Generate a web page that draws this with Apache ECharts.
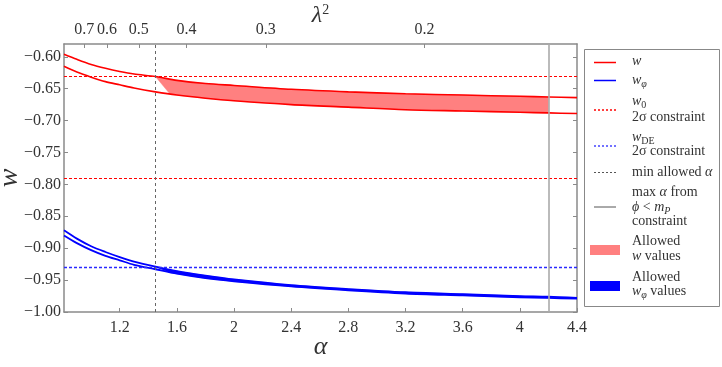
<!DOCTYPE html>
<html>
<head>
<meta charset="utf-8">
<script src="https://cdn.jsdelivr.net/npm/echarts@6/dist/echarts.min.js"></script>
<style>
  html, body { margin: 0; padding: 0; background: #fff; }
  #chart { width: 722px; height: 367px; }
</style>
</head>
<body>
<div id="chart"></div>
<script>
// 读图得到的数据
const alphaPts = [0.81, 0.9, 1.0, 1.1, 1.2, 1.3, 1.45, 1.6, 1.8, 2.0, 2.4, 2.8, 3.2, 3.6, 4.0, 4.2, 4.4];
const wUpper = [-0.596, -0.604, -0.612, -0.618, -0.623, -0.627, -0.631, -0.637, -0.642, -0.645, -0.651, -0.655, -0.658, -0.660, -0.662, -0.663, -0.664];
const wLower = [-0.615, -0.624, -0.632, -0.639, -0.644, -0.649, -0.655, -0.660, -0.665, -0.669, -0.675, -0.679, -0.683, -0.685, -0.687, -0.688, -0.689];
const wphiUpper = [-0.872, -0.885, -0.897, -0.906, -0.914, -0.921, -0.929, -0.936, -0.943, -0.949, -0.958, -0.964, -0.969, -0.972, -0.975, -0.976, -0.978];
const wphiLower = [-0.880, -0.892, -0.903, -0.912, -0.919, -0.926, -0.933, -0.940, -0.947, -0.952, -0.960, -0.966, -0.971, -0.974, -0.977, -0.978, -0.979];

// 允许区域（填充）
const fillAlpha = [1.45, 1.55, 1.6, 1.8, 2.0, 2.4, 2.8, 3.2, 3.6, 4.0, 4.2];
const wFillTop = [-0.631, -0.635, -0.637, -0.642, -0.645, -0.651, -0.655, -0.658, -0.660, -0.662, -0.663];
const wFillBottom = [-0.631, -0.658, -0.660, -0.665, -0.669, -0.675, -0.679, -0.683, -0.685, -0.687, -0.688];
const wphiFillTop = [-0.929, -0.934, -0.936, -0.943, -0.949, -0.958, -0.964, -0.969, -0.972, -0.975, -0.976];
const wphiFillBottom = [-0.929, -0.938, -0.940, -0.947, -0.952, -0.960, -0.966, -0.971, -0.974, -0.977, -0.978];

// 约束线
const w0Constraint = [-0.630, -0.793];
const wDEConstraint = [-0.932];
const minAlpha = 1.45;
const maxAlpha = 4.2;

// 刻度
const alphaTicks = [1.2, 1.6, 2.0, 2.4, 2.8, 3.2, 3.6, 4.0, 4.4];
const lambda2Ticks = [0.7, 0.6, 0.5, 0.4, 0.3, 0.2];
const wTicks = [-1.00, -0.95, -0.90, -0.85, -0.80, -0.75, -0.70, -0.65, -0.60];

const FONT = '"Liberation Serif", "DejaVu Serif", serif';
const SPINE = '#8a8a8a';
const TXT = '#333';

// λ² = 2/(3α)
const lambdaPos = lambda2Ticks.map(l => 2 / (3 * l));

function pairs(xs, ys) {
    return xs.map((x, i) => [x, ys[i]]);
}

function bandSeries(name, top, bottom, color) {
    return {
        name: name,
        type: 'custom',
        clip: true,
        z: 1,
        data: pairs(fillAlpha, top),
        renderItem: function (params, api) {
            if (params.dataIndex !== 0) return null;
            const pts = [];
            fillAlpha.forEach((a, i) => pts.push(api.coord([a, top[i]])));
            for (let i = fillAlpha.length - 1; i >= 0; i--) pts.push(api.coord([fillAlpha[i], bottom[i]]));
            return { type: 'polygon', shape: { points: pts }, style: { fill: color, stroke: color, lineWidth: 0.5 } };
        }
    };
}

function lineSeries(name, ys, color, width) {
    return {
        name: name,
        type: 'line',
        data: pairs(alphaPts, ys),
        showSymbol: false,
        smooth: 0.3,
        z: 3,
        lineStyle: { color: color, width: width },
        silent: true
    };
}

// 参考线：每种样式单独一个系列
function refLines(name, items, style) {
    return {
        name: name,
        type: 'line',
        data: [],
        z: 2,
        markLine: {
            silent: true,
            symbol: 'none',
            label: { show: false },
            lineStyle: style,
            data: items
        }
    };
}

const axisCommon = {
    nameMoveOverlap: false,
    axisLine: { show: true, onZero: false, lineStyle: { color: SPINE, width: 1.5 } },
    axisTick: { show: true, inside: true, length: 4, lineStyle: { color: SPINE, width: 1 } },
    splitLine: { show: false }
};

const chart = echarts.init(document.getElementById('chart'));

const legendX = 594;
const txtX = 632;
function legText(text, y) {
    return {
        type: 'text', x: txtX, y: y,
        style: {
            text: text, fill: TXT, font: '14px ' + FONT, verticalAlign: 'middle',
            rich: {
                n: { fontFamily: FONT, fontSize: 14, fill: TXT, lineHeight: 18 },
                i: { fontFamily: FONT, fontSize: 14, fontStyle: 'italic', fill: TXT, lineHeight: 18 },
                s: { fontFamily: FONT, fontSize: 10, fontStyle: 'italic', fill: TXT, lineHeight: 9, verticalAlign: 'bottom' },
                su: { fontFamily: FONT, fontSize: 10, fill: TXT, lineHeight: 9, verticalAlign: 'bottom' }
            }
        }
    };
}
function legLine(y, color, dashed, width) {
    return {
        type: 'line', shape: { x1: legendX, y1: y, x2: legendX + 22, y2: y },
        style: { stroke: color, lineWidth: width || 1.5, lineDash: dashed ? [2, 2] : null }
    };
}

const option = {
    animation: false,
    grid: { left: 64, right: 145, top: 44, bottom: 55, containLabel: false, outerBoundsMode: 'none' },
    xAxis: [
        Object.assign({}, axisCommon, {
            type: 'value', min: 0.81, max: 4.4, position: 'bottom',
            name: 'α', nameLocation: 'middle', nameGap: 22,
            nameTextStyle: { fontFamily: FONT, fontSize: 26, fontStyle: 'italic', color: TXT },
            axisTick: Object.assign({}, axisCommon.axisTick, { customValues: alphaTicks }),
            axisLabel: {
                customValues: alphaTicks, margin: 8, color: TXT, fontFamily: FONT, fontSize: 16,
                formatter: v => String(Math.round(v * 10) / 10)
            }
        }),
        Object.assign({}, axisCommon, {
            type: 'value', min: 0.81, max: 4.4, position: 'top',
            name: '{l|λ}{s|2}', nameLocation: 'middle', nameGap: 15,
            nameTextStyle: {
                rich: {
                    l: { fontFamily: FONT, fontSize: 24, fontStyle: 'italic', color: TXT, lineHeight: 26 },
                    s: { fontFamily: FONT, fontSize: 14, color: TXT, lineHeight: 14, verticalAlign: 'top' }
                }
            },
            axisTick: Object.assign({}, axisCommon.axisTick, { customValues: lambdaPos }),
            axisLabel: {
                customValues: lambdaPos, margin: 6, color: TXT, fontFamily: FONT, fontSize: 16,
                formatter: v => (2 / (3 * v)).toFixed(1)
            }
        })
    ],
    yAxis: [
        Object.assign({}, axisCommon, {
            type: 'value', min: -1.0, max: -0.58, position: 'left',
            name: 'w', nameLocation: 'middle', nameGap: 40, nameRotate: 90,
            nameTextStyle: { fontFamily: FONT, fontSize: 28, fontStyle: 'italic', color: TXT },
            axisTick: Object.assign({}, axisCommon.axisTick, { customValues: wTicks }),
            axisLabel: {
                customValues: wTicks, margin: 3, color: TXT, fontFamily: FONT, fontSize: 16,
                formatter: v => '\u2212' + Math.abs(v).toFixed(2)
            }
        }),
        Object.assign({}, axisCommon, {
            type: 'value', min: -1.0, max: -0.58, position: 'right',
            axisTick: Object.assign({}, axisCommon.axisTick, { customValues: wTicks }),
            axisLabel: { show: false }
        })
    ],
    series: [
        bandSeries('Allowed w values', wFillTop, wFillBottom, '#ff8080'),
        bandSeries('Allowed wφ values', wphiFillTop, wphiFillBottom, '#0000ff'),
        refLines('w0 2σ', w0Constraint.map(v => ({ yAxis: v })), { color: '#ff0000', type: [3, 2], width: 1 }),
        refLines('wDE 2σ', wDEConstraint.map(v => ({ yAxis: v })), { color: '#2a2aff', type: [3, 2], width: 1.3 }),
        refLines('min alpha', [{ xAxis: minAlpha }], { color: '#666', type: [3, 3], width: 1 }),
        refLines('max alpha', [{ xAxis: maxAlpha }], { color: '#aaa', type: 'solid', width: 1.6 }),
        lineSeries('w upper', wUpper, '#ff0000', 1.6),
        lineSeries('w lower', wLower, '#ff0000', 1.6),
        lineSeries('wphi upper', wphiUpper, '#0000ff', 1.8),
        lineSeries('wphi lower', wphiLower, '#0000ff', 1.8)
    ],
    graphic: [
        { type: 'rect', shape: { x: 584.5, y: 49.5, width: 135, height: 257 }, style: { fill: '#fff', stroke: '#888', lineWidth: 1 } },
        legLine(62.5, '#ff0000', false),
        legText('{i|w}', 61),
        legLine(80.5, '#0000ff', false),
        legText('{i|w}{s|φ}', 80),
        legLine(110, '#ff0000', true),
        legText('{i|w}{su|0}', 101),
        legText('{n|2σ constraint}', 117),
        legLine(146, '#4444ff', true),
        legText('{i|w}{su|DE}', 137.5),
        legText('{n|2σ constraint}', 151.5),
        legLine(172.5, '#555', true, 1),
        legText('{n|min allowed }{i|α}', 172.5),
        legLine(207, '#555', false, 1),
        legText('{n|max }{i|α}{n| from}', 192.5),
        legText('{i|ϕ}{n| < }{i|m}{s|P}', 207),
        legText('{n|constraint}', 221.7),
        { type: 'rect', shape: { x: 590, y: 245, width: 30, height: 10 }, style: { fill: '#ff8080' } },
        legText('{n|Allowed}', 241.7),
        legText('{i|w}{n| values}', 256.7),
        { type: 'rect', shape: { x: 590, y: 281, width: 30, height: 10 }, style: { fill: '#0000ff' } },
        legText('{n|Allowed}', 277.3),
        legText('{i|w}{s|φ}{n| values}', 291.7)
    ]
};

chart.setOption(option);
</script>
</body>
</html>
